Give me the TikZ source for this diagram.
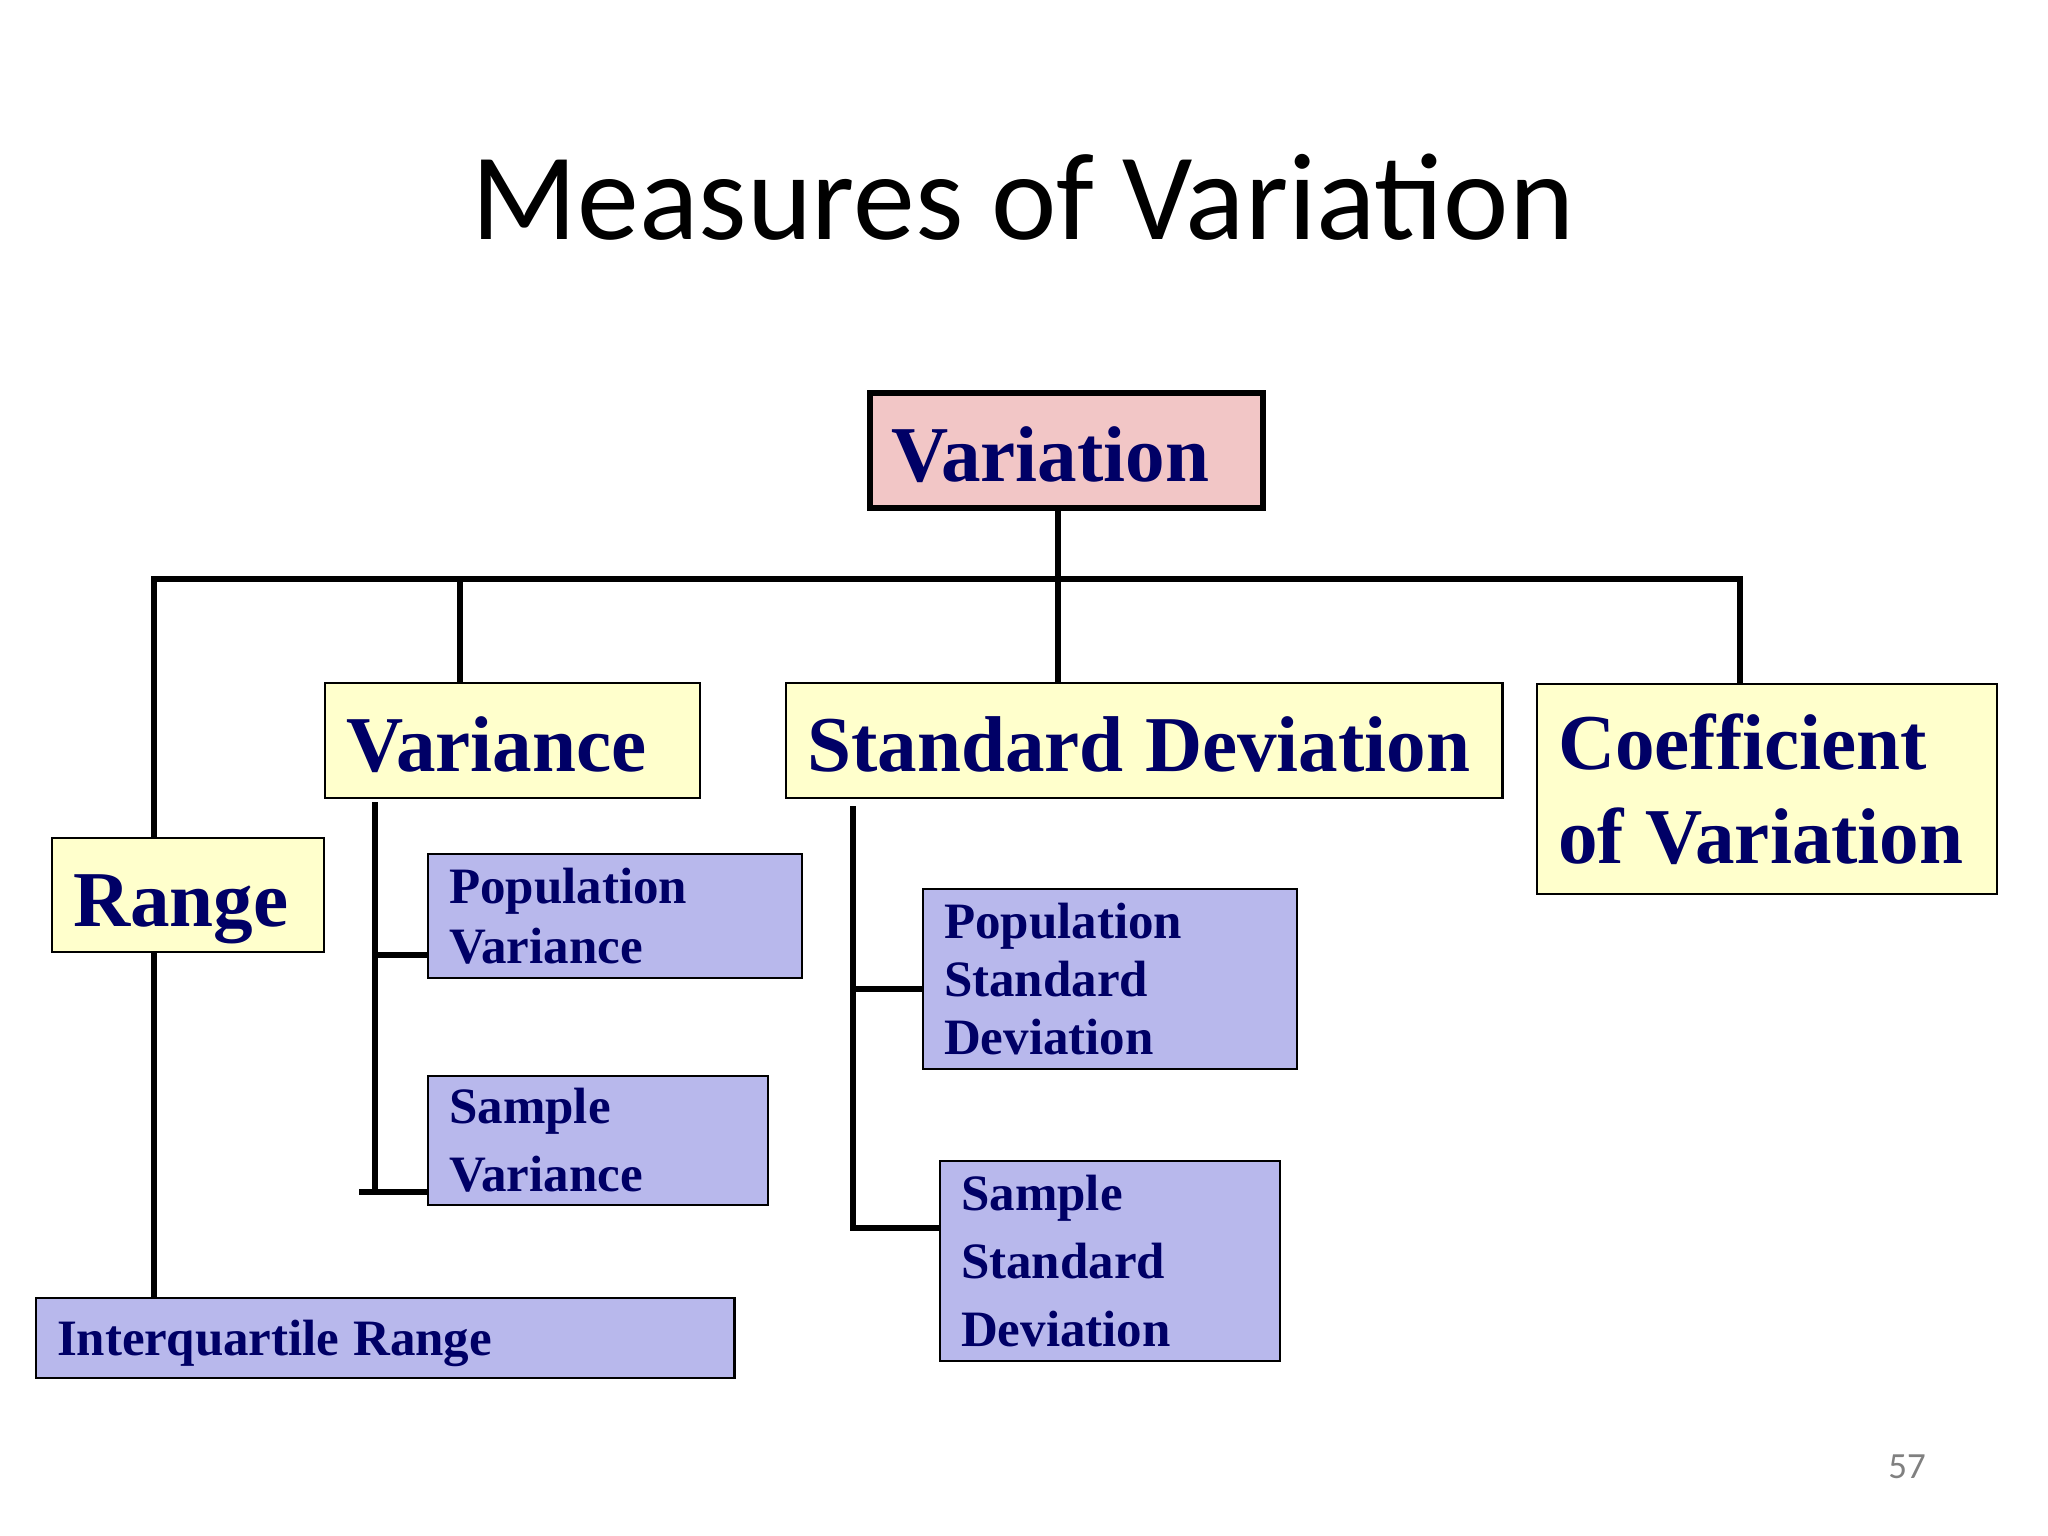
\documentclass[tikz,border=0pt]{standalone}
\usepackage{fontspec}
\setmainfont{Liberation Serif}
\newfontfamily\calibri{Carlito}
\definecolor{navy}{RGB}{0,0,102}
\definecolor{pinkfill}{RGB}{242,198,198}
\definecolor{yellowfill}{RGB}{255,255,204}
\definecolor{lavender}{RGB}{184,184,236}
\tikzset{
	box/.style 2 args={draw, line width=0.6pt, anchor=north west, inner xsep=6pt, inner ysep=0pt,
		align=left, text=navy, minimum width=#1, text width=#1-12pt, minimum height=#2,
		execute at begin node={\spaceskip=0.27em\relax}},
	big/.style={font=\fontsize{22.5}{26.7}\selectfont\bfseries},
	small/.style={font=\fontsize{14.5}{17}\selectfont\bfseries},
	oneline/.style={text height=17.7pt, text depth=0pt},
	link/.style={line width=1.7pt},
}
\begin{document}
\begin{tikzpicture}[x=0.01cm,y=-0.01cm]
			\useasboundingbox (0,0) rectangle (2048,1536);
			\node[font=\calibri\fontsize{35.2}{40}\selectfont, anchor=base] (title) at (1023,239) {Measures of Variation};
			\node[font=\calibri\fontsize{10.5}{12}\selectfont, text=gray, anchor=base] (page) at (1907,1478) {57};
			% main boxes
			\node[box={3.93cm}{1.15cm}, big, oneline, fill=pinkfill, line width=1.7pt] (variation) at (867,390) {Variation};
			\node[box={2.72cm}{1.14cm}, big, oneline, fill=yellowfill] (range) at (51,837) {Range};
			\node[box={3.75cm}{1.15cm}, big, oneline, fill=yellowfill] (variance) at (324,682) {Variance};
			\node[box={7.16cm}{1.15cm}, big, oneline, fill=yellowfill] (sd) at (785,682) {Standard Deviation};
			\node[box={4.60cm}{2.10cm}, big, fill=yellowfill] (cov) at (1536,683) {Coefficient\\of Variation};
			% sub boxes
			\node[box={6.98cm}{0.80cm}, small, fill=lavender, text depth=0pt] (iqr) at (35,1297) {Interquartile Range};
			\node[box={3.74cm}{1.24cm}, small, fill=lavender] (popvar) at (427,853) {Population\\Variance};
			\node[box={3.40cm}{1.29cm}, small, fill=lavender] (sampvar) at (427,1075) {Sample\\[2.3pt]Variance};
			\node[box={3.74cm}{1.80cm}, small, fill=lavender] (popsd) at (922,888) {Population\\[-0.4pt]Standard\\[-0.4pt]Deviation};
			\node[box={3.40cm}{2.00cm}, small, fill=lavender] (sampsd) at (939,1160) {Sample\\[2.3pt]Standard\\[2.3pt]Deviation};
			% connectors
			\coordinate (L) at (154,579); \coordinate (R) at (1740,579);
			\coordinate (T) at (1058,579); \coordinate (V) at (460,579);
			\draw[link] (L |- range.north) -- (L) -- (R) -- (R |- cov.north);
			\draw[link] (variation.south -| T) -- (T |- sd.north);
			\draw[link] (V) -- (V |- variance.north);
			\draw[link] (range.south -| L) -- (L |- iqr.north);
			\coordinate (vt) at (375,802); \coordinate (vp) at (375,955);
			\coordinate (vb) at (375,1192); \coordinate (vs) at (359,1192);
			\draw[link] (vt) -- (vb); \draw[link] (vp) -- (vp -| popvar.west);
			\draw[link] (vs) -- (vs -| sampvar.west);
			\coordinate (st) at (853,806); \coordinate (sp) at (853,989); \coordinate (sb) at (853,1228);
			\draw[link] (st) -- (sb) -- (sb -| sampsd.west); \draw[link] (sp) -- (sp -| popsd.west);
		\end{tikzpicture}
\end{document}
